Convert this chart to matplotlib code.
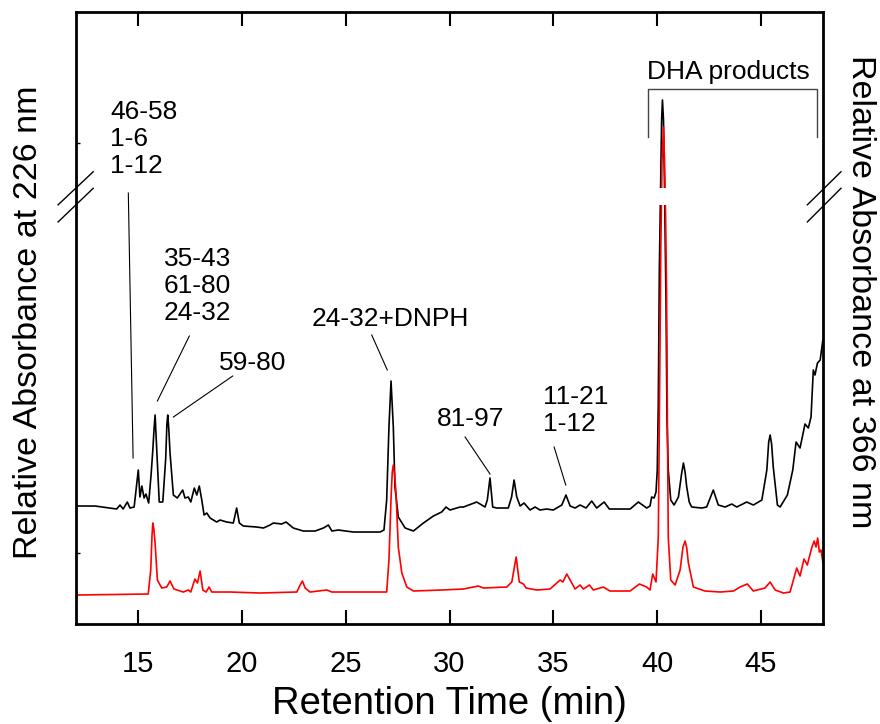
import matplotlib
matplotlib.use('Agg')
import matplotlib.pyplot as plt

plt.rcParams['font.family'] = ['Liberation Sans', 'DejaVu Sans']

# Retention time (min) and relative absorbance (arbitrary units).
# Black trace: absorbance at 226 nm
black_t = [12.03, 12.92, 13.64, 13.96, 14.12, 14.27, 14.47, 14.60, 14.80, 15.00,
           15.08, 15.17, 15.28, 15.37, 15.50, 15.62, 15.70, 15.76, 15.81, 15.89,
           16.01, 16.18, 16.32, 16.38, 16.42, 16.47, 16.53, 16.69, 16.88, 17.14,
           17.25, 17.41, 17.53, 17.70, 17.82, 17.94, 18.06, 18.17, 18.30, 18.46,
           18.78, 18.94, 19.26, 19.58, 19.74, 19.87, 20.06, 20.71, 21.03, 21.35,
           21.51, 21.91, 22.12, 22.47, 22.95, 23.52, 23.92, 24.16, 24.33, 24.64,
           25.36, 26.65, 26.84, 26.97, 27.08, 27.18, 27.29, 27.37, 27.53, 27.86,
           28.26, 28.74, 29.22, 29.62, 29.83, 30.02, 30.51, 30.67, 31.31, 31.71,
           31.82, 31.95, 32.08, 32.27, 32.83, 32.99, 33.11, 33.24, 33.40, 33.59,
           33.88, 34.12, 34.36, 34.68, 35.00, 35.41, 35.61, 35.81, 36.05, 36.29,
           36.58, 36.85, 37.09, 37.45, 37.70, 38.70, 39.10, 39.50, 39.66, 39.74,
           39.86, 39.95, 40.01, 40.06, 40.11, 40.17, 40.22, 40.26, 40.31, 40.36,
           40.43, 40.48, 40.54, 40.66, 40.82, 41.03, 41.18, 41.27, 41.35, 41.43,
           41.55, 41.67, 42.15, 42.39, 42.71, 42.95, 43.28, 43.60, 43.84, 44.32,
           44.64, 45.05, 45.29, 45.38, 45.45, 45.52, 45.60, 45.80, 45.93, 46.28,
           46.54, 46.70, 46.89, 47.13, 47.29, 47.42, 47.53, 47.61, 47.73, 47.86,
           47.99]
black_v = [118, 118, 116, 115, 119, 115, 122, 116, 117, 154,
           127, 138, 126, 130, 121, 150, 174, 195, 209, 174,
           122, 122, 165, 200, 209, 195, 171, 129, 126, 134,
           126, 127, 122, 136, 129, 138, 124, 109, 111, 106,
           102, 104, 102, 101, 116, 101, 98, 97, 96, 99,
           101, 100, 102, 96, 93, 93, 96, 99, 93, 94,
           92, 92, 94, 124, 197, 243, 197, 137, 107, 96,
           93, 101, 108, 112, 117, 114, 117, 117, 122, 117,
           124, 146, 117, 116, 116, 127, 144, 127, 118, 121,
           114, 117, 114, 115, 114, 119, 129, 118, 116, 119,
           116, 123, 116, 122, 115, 115, 122, 116, 118, 127,
           126, 132, 154, 221, 354, 434, 504, 524, 504, 436,
           324, 204, 154, 124, 119, 127, 150, 161, 152, 137,
           122, 117, 116, 117, 134, 119, 117, 120, 117, 122,
           119, 124, 154, 182, 189, 180, 157, 119, 117, 129,
           154, 182, 176, 200, 196, 207, 254, 249, 261, 264,
           284]

# Red trace: absorbance at 366 nm
red_t = [12.03, 15.48, 15.60, 15.66, 15.70, 15.75, 15.81, 15.92, 16.13, 16.37,
         16.53, 16.72, 17.17, 17.41, 17.53, 17.73, 17.85, 17.98, 18.11, 18.27,
         18.41, 18.54, 19.42, 20.87, 22.64, 22.80, 22.91, 23.04, 23.28, 24.08,
         24.33, 26.97, 27.08, 27.19, 27.24, 27.29, 27.35, 27.42, 27.53, 27.70,
         27.94, 28.26, 29.62, 30.67, 31.39, 31.63, 32.76, 33.00, 33.21, 33.36,
         33.56, 33.69, 34.20, 34.84, 35.33, 35.46, 35.65, 35.81, 36.05, 36.29,
         36.45, 36.74, 36.93, 37.41, 37.73, 38.70, 39.15, 39.50, 39.66, 39.79,
         39.95, 40.06, 40.12, 40.18, 40.24, 40.31, 40.36, 40.41, 40.46, 40.50,
         40.54, 40.66, 40.87, 41.11, 41.25, 41.35, 41.43, 41.51, 41.75, 42.31,
         43.04, 43.68, 44.00, 44.35, 44.64, 45.20, 45.45, 45.69, 46.09, 46.41,
         46.57, 46.73, 46.89, 47.08, 47.24, 47.45, 47.57, 47.66, 47.74, 47.82,
         47.90, 48.00]
red_v = [29, 30, 54, 88, 101, 95, 81, 44, 36, 37,
         43, 35, 32, 34, 32, 45, 41, 53, 34, 32,
         37, 32, 32, 31, 32, 39, 43, 36, 32, 34,
         32, 32, 64, 131, 152, 159, 150, 131, 77, 51,
         37, 33, 34, 35, 38, 36, 37, 42, 67, 42,
         40, 36, 34, 35, 44, 42, 50, 44, 35, 39,
         35, 39, 34, 37, 33, 33, 40, 37, 34, 50,
         42, 87, 224, 374, 464, 497, 464, 410, 330, 200,
         87, 44, 39, 54, 77, 83, 76, 61, 37, 33,
         32, 33, 37, 40, 33, 36, 42, 34, 31, 32,
         44, 56, 48, 65, 59, 76, 83, 77, 86, 72,
         74, 61]

x_ticks = [15, 20, 25, 30, 35, 40, 45]

# peak labels: text, text anchor (t, v), leader line start, leader line end
labels = ['46-58\n1-6\n1-12', '35-43\n61-80\n24-32', '59-80',
          '24-32+DNPH', '81-97', '11-21\n1-12']
label_pos = [(13.64, 524), (16.24, 377), (18.89, 273),
             (23.37, 317), (29.38, 217), (34.52, 239)]
leader_from = [(14.52, 431), (17.46, 288), (19.55, 248),
               (26.25, 289), (30.75, 187), (35.04, 177)]
leader_to = [(14.75, 166), (15.92, 223), (16.69, 207),
             (27.00, 254), (31.95, 150), (35.60, 139)]

# y-axis break (in data units) and DHA bracket
break_lo, break_hi = 419, 436
dha_left, dha_right = 39.55, 47.70
dha_low, dha_top = 487, 535

fig = plt.figure(figsize=(8.8, 7.24), dpi=100)
ax = fig.add_axes([0.0864, 0.1381, 0.8489, 0.8453])

ax.plot(black_t, black_v, color='black', lw=1.2, zorder=2)
ax.plot(red_t, red_v, color='#ff0000', lw=1.2, zorder=2)

# gap in the big peak where the axis is broken
ax.fill_between([39.85, 40.75], break_lo, break_hi, color='white', lw=0, zorder=3)

ax.set_xlim(12, 48)
ax.set_ylim(0, 612)
ax.set_xticks(x_ticks)
ax.set_xticklabels([str(t) for t in x_ticks])
ax.tick_params(axis='x', direction='in', length=10, width=1.5, top=True,
               labelsize=21, pad=19)
ax.set_yticks([71, 481])
ax.set_yticklabels([])
ax.tick_params(axis='y', direction='in', length=3, width=1)
for sp in ax.spines.values():
    sp.set_linewidth(2)

# break marks on both y axes
for x0, x1 in [(-0.024, 0.023), (0.979, 1.024)]:
    for y0, y1 in [(0.685, 0.739), (0.657, 0.712)]:
        ax.plot([x0, x1], [y0, y1], color='black', lw=1.0,
                transform=ax.transAxes, clip_on=False, zorder=5)

for txt, pos, p0, p1 in zip(labels, label_pos, leader_from, leader_to):
    ax.text(pos[0], pos[1], txt, fontsize=19, ha='left', va='top', linespacing=1.15)
    ax.plot([p0[0], p1[0]], [p0[1], p1[1]], color='black', lw=0.8)

ax.text(dha_left - 0.05, 564, 'DHA products', fontsize=19, ha='left', va='top')
ax.plot([dha_left, dha_left, dha_right, dha_right],
        [dha_low, dha_top, dha_top, dha_low], color='#444444', lw=1.0)

fig.text(0.511, 0.028, 'Retention Time (min)', fontsize=27.5, ha='center', va='center')
fig.text(0.032, 0.555, 'Relative Absorbance at 226 nm', fontsize=24.5,
         rotation=90, ha='center', va='center')
fig.text(0.978, 0.597, 'Relative Absorbance at 366 nm', fontsize=24.5,
         rotation=-90, ha='center', va='center')

fig.savefig('out.png', dpi=100)
